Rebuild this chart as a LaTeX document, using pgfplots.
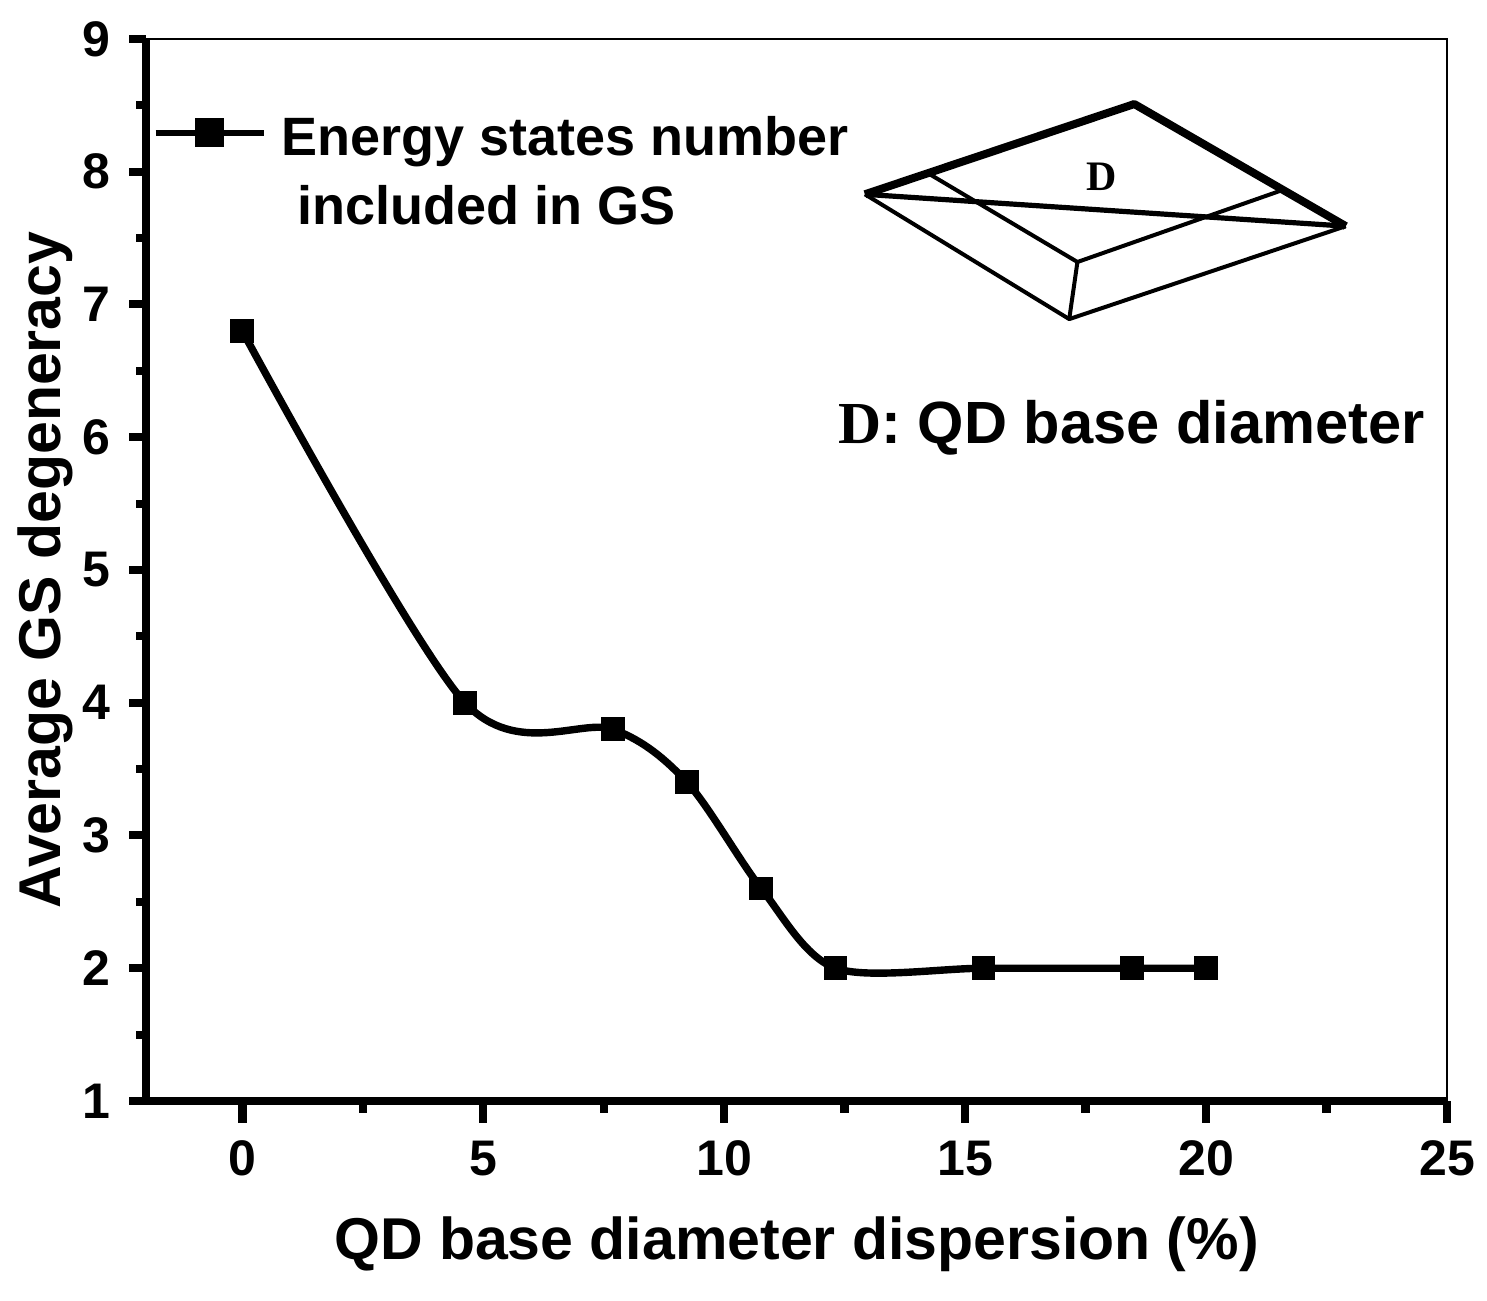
\documentclass[border=0pt]{standalone}
\usepackage{pgfplots}
\pgfplotsset{compat=1.18}
\usepackage{fontspec}
\setmainfont{Liberation Sans}
\newfontfamily\serifD{Liberation Serif}
\begin{document}
\begin{tikzpicture}
\begin{axis}[
 scale only axis, width=650.5pt, height=531pt,
 xmin=-2, xmax=25, ymin=1, ymax=9,
 xtick={0,5,10,15,20,25}, ytick={1,2,...,9},
 minor x tick num=1, minor y tick num=1,
 tick pos=left, tick align=outside,
 axis line style={line width=0.75pt},
 major tick length=8.5pt, minor tick length=4.5pt,
 ticklabel style={font=\fontsize{25}{30}\selectfont\bfseries},
 xticklabel style={yshift=-8pt},
 yticklabel style={xshift=-6pt},
 /pgf/number format/assume math mode=true,
 xlabel={QD base diameter dispersion (\%)},
 ylabel={Average GS degeneracy},
 label style={font=\fontsize{29.5}{35}\selectfont\bfseries},
 xlabel style={at={(axis description cs:0.5,-0.1488)}, anchor=base},
 ylabel style={at={(axis description cs:-0.0776,0.5)}, anchor=center},
 clip=false,
 legend style={draw=none, fill=none, at={(axis description cs:0.005,0.94)}, anchor=north west,
   font=\fontsize{27}{34.5}\selectfont\bfseries, inner sep=0pt},
 legend cell align=left,
 legend image code/.code={
   \draw[line width=2.8pt] (0pt,0pt) -- (54pt,0pt);
   \fill (21.5pt,-5.5pt) rectangle (32.5pt,5.5pt);
   \path (59pt,0pt);
 },
]
\addplot[smooth, line width=3.7pt, mark=square*, mark size=5.7pt, mark options={line width=0pt}]
 coordinates {(0,6.8)(4.62,4.0)(7.69,3.8)(9.23,3.4)(10.77,2.6)(12.31,2.0)(15.38,2.0)(18.46,2.0)(20,2.0)};
\addlegendentry{\begin{tabular}[t]{@{}l@{}}Energy states number\\\hspace*{8pt}included in GS\end{tabular}}
% thick left and bottom axis lines
\draw[line width=3.6pt] (rel axis cs:0,1) -- (rel axis cs:0,0) -- (rel axis cs:1,0);
% thick tick marks
\pgfplotsinvokeforeach{0,5,10,15,20,25}{\draw[line width=4.2pt] (axis cs:#1,1) -- ++(0pt,-10.8pt);}
\pgfplotsinvokeforeach{2.5,7.5,12.5,17.5,22.5}{\draw[line width=4.2pt] (axis cs:#1,1) -- ++(0pt,-5.8pt);}
\pgfplotsinvokeforeach{1,2,3,4,5,6,7,8,9}{\draw[line width=4pt] (axis cs:-2,#1) -- ++(-8.5pt,0pt);}
\pgfplotsinvokeforeach{1.5,2.5,3.5,4.5,5.5,6.5,7.5,8.5}{\draw[line width=4pt] (axis cs:-2,#1) -- ++(-4.8pt,0pt);}
% inset: frustum sketch
\draw[line width=4pt, line join=round] (axis cs:12.92,7.83) -- (axis cs:18.51,8.51) -- (axis cs:22.90,7.59);
\draw[line width=2.6pt] (axis cs:12.92,7.83) -- (axis cs:22.90,7.59);
\draw[line width=2pt, line join=round] (axis cs:12.92,7.83) -- (axis cs:17.16,6.89) -- (axis cs:22.90,7.59);
\draw[line width=2pt, line join=round] (axis cs:14.27,7.98) -- (axis cs:17.33,7.32) -- (axis cs:21.57,7.86);
\draw[line width=2pt] (axis cs:17.33,7.32) -- (axis cs:17.16,6.89);
\node[font=\serifD\bfseries\fontsize{21}{25}\selectfont, inner sep=0pt] at (axis cs:17.83,7.96) {D};
\node[anchor=base west, font=\fontsize{29.8}{35}\selectfont\bfseries, inner sep=0pt] at (axis cs:12.36,5.95) {{\serifD D}: QD base diameter};
\coordinate (bbsw) at (rel axis cs:0,0);
\coordinate (bbne) at (rel axis cs:1,1);
\end{axis}
\pgfresetboundingbox
\path ([shift={(-73pt,-100pt)}]bbsw) rectangle ([shift={(20pt,19.5pt)}]bbne);
\end{tikzpicture}
\end{document}
